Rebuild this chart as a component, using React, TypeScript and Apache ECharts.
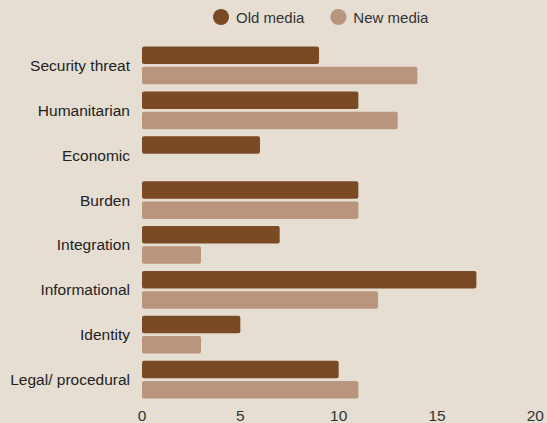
import React, { useEffect, useRef } from "react";
import * as echarts from "echarts";

const categories = [
  "Security threat",
  "Humanitarian",
  "Economic",
  "Burden",
  "Integration",
  "Informational",
  "Identity",
  "Legal/ procedural",
];
const oldMedia = [9, 11, 6, 11, 7, 17, 5, 10];
const newMedia = [14, 13, 0, 11, 3, 12, 3, 11];
const xTicks = [0, 5, 10, 15, 20];

export default function App() {
  const ref = useRef<HTMLDivElement>(null);
  useEffect(() => {
    if (!ref.current) return;
    const chart = echarts.init(ref.current, null, { renderer: "svg" });
    chart.setOption({
      animation: false,
      backgroundColor: "#e6ded3",
      textStyle: { fontFamily: "Liberation Sans, Arial, sans-serif" },
      legend: {
        top: 4,
        left: 208,
        icon: "circle",
        itemWidth: 16,
        itemHeight: 16,
        itemGap: 26,
        textStyle: { fontSize: 15, color: "#333", padding: [0, 0, 0, 2] },
        data: ["Old media", "New media"],
      },
      grid: { left: 142, right: 9, top: 43, bottom: 21, containLabel: false },
      xAxis: {
        type: "value",
        min: xTicks[0],
        max: xTicks[xTicks.length - 1],
        interval: 5,
        axisLine: { show: false },
        axisTick: { show: false },
        splitLine: { show: false },
        axisLabel: { fontSize: 15.5, color: "#333", margin: 5 },
      },
      yAxis: {
        type: "category",
        data: categories,
        inverse: true,
        axisLine: { show: false },
        axisTick: { show: false },
        axisLabel: { fontSize: 15.5, color: "#222", margin: 12 },
      },
      series: [
        {
          name: "Old media",
          type: "bar",
          data: oldMedia,
          itemStyle: { color: "#7a4a24", borderRadius: 2 },
          barGap: "16%",
          barCategoryGap: "16%",
        },
        {
          name: "New media",
          type: "bar",
          data: newMedia,
          itemStyle: { color: "#b8957c", borderRadius: 2 },
          barGap: "16%",
          barCategoryGap: "16%",
        },
      ],
    });
    return () => chart.dispose();
  }, []);
  return <div ref={ref} style={{ width: 547, height: 423, position: "absolute", left: 0, top: 0 }} />;
}
